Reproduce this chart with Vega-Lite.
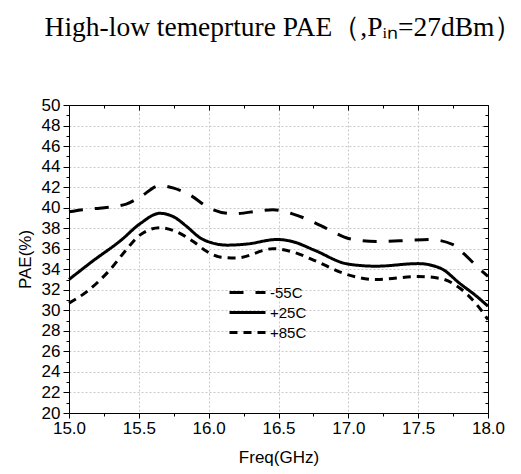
{
  "$schema": "https://vega.github.io/schema/vega-lite/v6.json",
  "autosize": "none",
  "width": 419,
  "height": 308,
  "padding": {"left": 69, "top": 105, "right": 33, "bottom": 61},
  "background": "white",
  "title": {
    "text": "High-low temeprture PAE（,Pᵢₙ=27dBm）",
    "font": "Liberation Serif",
    "fontSize": 27.5,
    "fontWeight": "normal",
    "color": "black",
    "anchor": "middle",
    "offset": 55,
    "dx": 5
  },
  "config": {
    "view": {"stroke": null},
    "axis": {
      "domainColor": "black",
      "domainWidth": 1,
      "tickColor": "black",
      "tickWidth": 1,
      "labelColor": "black",
      "titleColor": "black",
      "labelFont": "Liberation Sans",
      "titleFont": "Liberation Sans",
      "labelFontSize": 17,
      "titleFontSize": 17,
      "titleFontWeight": "normal",
      "gridColor": "#bbbbbb",
      "gridDash": [2, 2],
      "gridWidth": 0.8,
      "labelFlush": false,
      "labelOverlap": false
    },
    "legend": {
      "orient": "none",
      "legendX": 171,
      "legendY": 180,
      "symbolType": "M-3.6,0H3.6",
      "symbolSize": 100,
      "symbolStrokeWidth": 3,
      "symbolStrokeColor": "black",
      "symbolFillColor": "transparent",
      "labelFont": "Liberation Sans",
      "labelFontSize": 15,
      "labelColor": "black",
      "labelOffset": 15,
      "rowPadding": 4,
      "title": null
    }
  },
  "data": {
    "values": [
      {"f": 15.0, "v": 39.6, "s": "-55C"},
      {"f": 15.13, "v": 39.85, "s": "-55C"},
      {"f": 15.22, "v": 39.95, "s": "-55C"},
      {"f": 15.41, "v": 40.35, "s": "-55C"},
      {"f": 15.51, "v": 41.05, "s": "-55C"},
      {"f": 15.65, "v": 42.15, "s": "-55C"},
      {"f": 15.75, "v": 41.9, "s": "-55C"},
      {"f": 15.87, "v": 41.2, "s": "-55C"},
      {"f": 16.0, "v": 40.0, "s": "-55C"},
      {"f": 16.18, "v": 39.4, "s": "-55C"},
      {"f": 16.37, "v": 39.7, "s": "-55C"},
      {"f": 16.46, "v": 39.8, "s": "-55C"},
      {"f": 16.6, "v": 39.4, "s": "-55C"},
      {"f": 16.75, "v": 38.6, "s": "-55C"},
      {"f": 16.87, "v": 37.8, "s": "-55C"},
      {"f": 17.0, "v": 37.0, "s": "-55C"},
      {"f": 17.2, "v": 36.7, "s": "-55C"},
      {"f": 17.42, "v": 36.8, "s": "-55C"},
      {"f": 17.58, "v": 36.9, "s": "-55C"},
      {"f": 17.75, "v": 36.4, "s": "-55C"},
      {"f": 17.82, "v": 35.6, "s": "-55C"},
      {"f": 17.95, "v": 33.9, "s": "-55C"},
      {"f": 18.0, "v": 33.3, "s": "-55C"},
      {"f": 15.0, "v": 33.0, "s": "+25C"},
      {"f": 15.17, "v": 34.8, "s": "+25C"},
      {"f": 15.37, "v": 36.8, "s": "+25C"},
      {"f": 15.51, "v": 38.45, "s": "+25C"},
      {"f": 15.65, "v": 39.45, "s": "+25C"},
      {"f": 15.75, "v": 39.1, "s": "+25C"},
      {"f": 15.84, "v": 38.2, "s": "+25C"},
      {"f": 15.94, "v": 37.05, "s": "+25C"},
      {"f": 16.03, "v": 36.55, "s": "+25C"},
      {"f": 16.13, "v": 36.35, "s": "+25C"},
      {"f": 16.27, "v": 36.45, "s": "+25C"},
      {"f": 16.49, "v": 36.9, "s": "+25C"},
      {"f": 16.6, "v": 36.7, "s": "+25C"},
      {"f": 16.75, "v": 35.9, "s": "+25C"},
      {"f": 17.0, "v": 34.5, "s": "+25C"},
      {"f": 17.2, "v": 34.3, "s": "+25C"},
      {"f": 17.5, "v": 34.55, "s": "+25C"},
      {"f": 17.66, "v": 34.1, "s": "+25C"},
      {"f": 17.8, "v": 32.6, "s": "+25C"},
      {"f": 17.92, "v": 31.35, "s": "+25C"},
      {"f": 18.0, "v": 30.4, "s": "+25C"},
      {"f": 15.0, "v": 30.7, "s": "+85C"},
      {"f": 15.13, "v": 31.85, "s": "+85C"},
      {"f": 15.29, "v": 33.9, "s": "+85C"},
      {"f": 15.41, "v": 35.9, "s": "+85C"},
      {"f": 15.51, "v": 37.35, "s": "+85C"},
      {"f": 15.65, "v": 38.05, "s": "+85C"},
      {"f": 15.77, "v": 37.65, "s": "+85C"},
      {"f": 15.89, "v": 36.7, "s": "+85C"},
      {"f": 15.99, "v": 35.7, "s": "+85C"},
      {"f": 16.08, "v": 35.2, "s": "+85C"},
      {"f": 16.2, "v": 35.1, "s": "+85C"},
      {"f": 16.46, "v": 36.0, "s": "+85C"},
      {"f": 16.6, "v": 35.7, "s": "+85C"},
      {"f": 16.75, "v": 34.9, "s": "+85C"},
      {"f": 17.0, "v": 33.45, "s": "+85C"},
      {"f": 17.2, "v": 33.0, "s": "+85C"},
      {"f": 17.5, "v": 33.3, "s": "+85C"},
      {"f": 17.66, "v": 33.1, "s": "+85C"},
      {"f": 17.8, "v": 32.15, "s": "+85C"},
      {"f": 17.92, "v": 30.55, "s": "+85C"},
      {"f": 18.0, "v": 29.1, "s": "+85C"}
    ]
  },
  "layer": [
    {
      "mark": {"type": "line", "interpolate": "monotone", "strokeWidth": 3, "color": "black"},
      "encoding": {
        "x": {
          "field": "f", "type": "quantitative",
          "scale": {"domain": [15, 18], "nice": false, "zero": false},
          "axis": {
            "orient": "bottom",
            "title": "Freq(GHz)",
            "values": [15, 15.5, 16, 16.5, 17, 17.5, 18],
            "format": ".1f",
            "tickSize": 5,
            "labelPadding": 2,
            "titlePadding": 13,
            "grid": true
          }
        },
        "y": {
          "field": "v", "type": "quantitative",
          "scale": {"domain": [20, 50], "nice": false, "zero": false},
          "axis": {
            "orient": "left",
            "title": "PAE(%)",
            "values": [20, 22, 24, 26, 28, 30, 32, 34, 36, 38, 40, 42, 44, 46, 48, 50],
            "format": "d",
            "tickSize": 6,
            "labelPadding": 3,
            "titlePadding": 7,
            "grid": true
          }
        },
        "strokeDash": {
          "field": "s", "type": "nominal",
          "scale": {"domain": ["-55C", "+25C", "+85C"], "range": [[14, 12], [1, 0], [8, 6]]},
          "legend": {}
        },
        "detail": {"field": "s"}
      }
    },
    {
      "mark": {"type": "line", "opacity": 0},
      "encoding": {
        "x": {
          "field": "f", "type": "quantitative",
          "axis": {"orient": "bottom", "title": null, "labels": false, "domain": false, "grid": false,
                   "values": [15.25, 15.75, 16.25, 16.75, 17.25, 17.75], "tickSize": 3}
        },
        "y": {
          "field": "v", "type": "quantitative",
          "axis": {"orient": "left", "title": null, "labels": false, "domain": false, "grid": false,
                   "values": [21, 23, 25, 27, 29, 31, 33, 35, 37, 39, 41, 43, 45, 47, 49], "tickSize": 3}
        },
        "detail": {"field": "s"}
      }
    },
    {
      "mark": {"type": "line", "opacity": 0},
      "encoding": {
        "x": {
          "field": "f", "type": "quantitative",
          "axis": {"orient": "top", "title": null, "labels": false, "domain": true, "grid": false,
                   "values": [15, 15.5, 16, 16.5, 17, 17.5, 18], "tickSize": -5}
        },
        "y": {
          "field": "v", "type": "quantitative",
          "axis": {"orient": "right", "title": null, "labels": false, "domain": true, "grid": false,
                   "values": [20, 22, 24, 26, 28, 30, 32, 34, 36, 38, 40, 42, 44, 46, 48, 50], "tickSize": -5}
        },
        "detail": {"field": "s"}
      }
    },
    {
      "mark": {"type": "line", "opacity": 0},
      "encoding": {
        "x": {
          "field": "f", "type": "quantitative",
          "axis": {"orient": "top", "title": null, "labels": false, "domain": false, "grid": false,
                   "values": [15.25, 15.75, 16.25, 16.75, 17.25, 17.75], "tickSize": -3}
        },
        "y": {
          "field": "v", "type": "quantitative",
          "axis": {"orient": "right", "title": null, "labels": false, "domain": false, "grid": false,
                   "values": [21, 23, 25, 27, 29, 31, 33, 35, 37, 39, 41, 43, 45, 47, 49], "tickSize": -3}
        },
        "detail": {"field": "s"}
      }
    }
  ],
  "resolve": {"axis": {"x": "independent", "y": "independent"}}
}
